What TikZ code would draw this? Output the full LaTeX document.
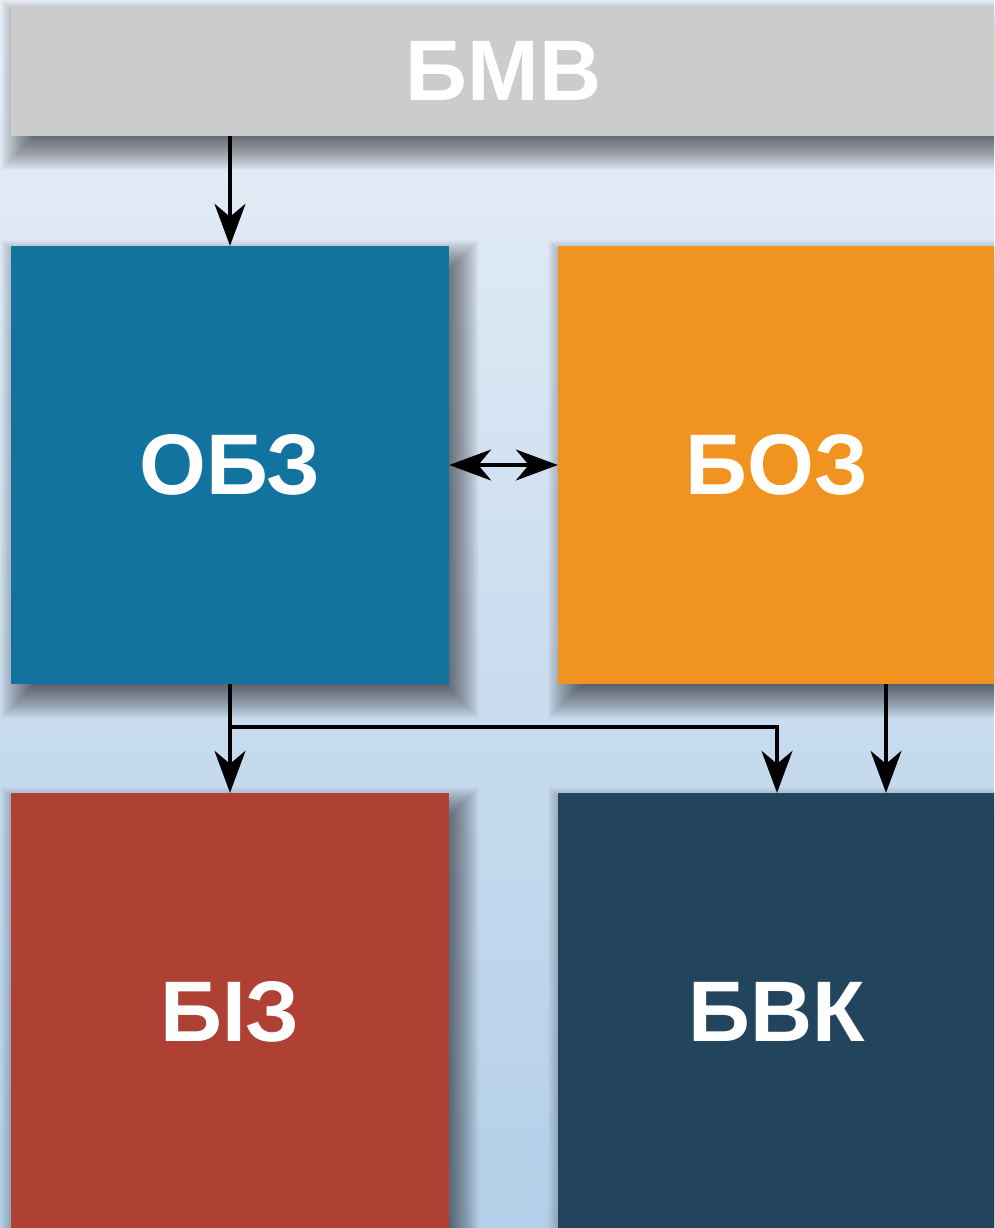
\documentclass[tikz,border=0pt]{standalone}
\usepackage{fontspec}
\setmainfont{Liberation Sans}
\usetikzlibrary{arrows.meta}
\definecolor{bgtop}{HTML}{E9F0F8}
\definecolor{bgbot}{HTML}{B4CFE9}
\definecolor{cbmv}{HTML}{CCCCCC}
\definecolor{cobz}{HTML}{12739E}
\definecolor{cboz}{HTML}{F0931F}
\definecolor{cbiz}{HTML}{AE4133}
\definecolor{cbvk}{HTML}{23445D}
\newcommand\softshadow[4]{% centre x, centre y, half width, half height
  \foreach \e in {-18,-17,...,20}{
    \fill[black, opacity=0.02]
      ({#1+10-#3-\e},{#2+14-#4-\e}) rectangle ({#1+10+#3+\e},{#2+14+#4+\e});
  }}
\tikzset{
  blockbox/.style={rectangle, inner sep=0pt, minimum width=438pt, minimum height=438pt,
    text=white, font=\fontsize{86}{90}\selectfont\bfseries},
  conn/.style={line width=3.3pt, draw=black, -{Stealth[length=42pt, width=31pt, inset=13pt]}},
  dconn/.style={line width=3.3pt, draw=black, {Stealth[length=42pt, width=31pt, inset=13pt]}-{Stealth[length=42pt, width=31pt, inset=13pt]}}
}
\begin{document}
\begin{tikzpicture}[x=1pt,y=-1pt]
\useasboundingbox (0,0) rectangle (994,1228);
\clip (0,0) rectangle (994,1228);
\shade[top color=bgtop, bottom color=bgbot, middle color=bgtop!45!bgbot] (0,0) rectangle (994,1228);
\softshadow{503.5}{71}{492.5}{65}
\softshadow{230}{465}{219}{219}
\softshadow{777}{465}{219}{219}
\softshadow{230}{1012}{219}{219}
\softshadow{777}{1012}{219}{219}
\node[blockbox, fill=cbmv, minimum width=985pt, minimum height=130pt] (bmv) at (503.5,71) {БМВ};
\node[blockbox, fill=cobz] (obz) at (230,465) {ОБЗ};
\node[blockbox, fill=cboz] (boz) at (777,465) {БОЗ};
\node[blockbox, fill=cbiz] (biz) at (230,1012) {БІЗ};
\node[blockbox, fill=cbvk] (bvk) at (777,1012) {БВК};
\coordinate (br) at (230,727);
\draw[conn] (obz.north |- bmv.south) -- (obz.north);
\draw[dconn] (obz.east) -- (boz.west);
\draw[conn] (obz.south) -- (biz.north);
\draw[conn] (br) -| (bvk.north);
\draw[conn] ([xshift=109pt]boz.south) -- ([xshift=109pt]bvk.north);
\end{tikzpicture}
\end{document}
